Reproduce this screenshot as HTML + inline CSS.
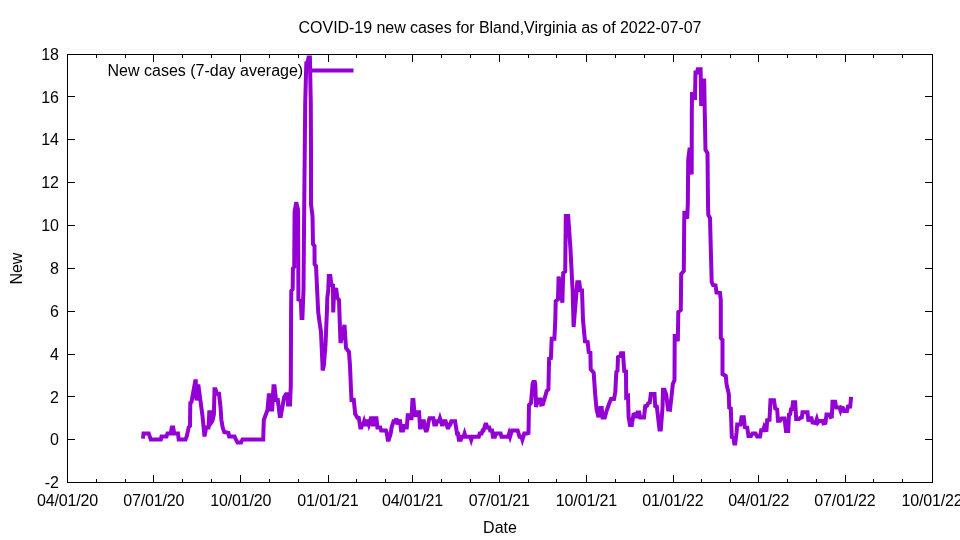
<!DOCTYPE html>
<html lang="en"><head><meta charset="utf-8"><title>COVID-19 new cases for Bland,Virginia</title>
<style>html,body{margin:0;padding:0;background:#fff;overflow:hidden}svg{display:block}text{font-family:"Liberation Sans", sans-serif;font-size:16px;fill:#000}</style></head><body>
<svg width="960" height="540" viewBox="0 0 960 540">
<rect width="960" height="540" fill="#fff"/>
<text x="59" y="488.2" text-anchor="end">-2</text>
<text x="59" y="445.3" text-anchor="end">0</text>
<text x="59" y="402.5" text-anchor="end">2</text>
<text x="59" y="359.6" text-anchor="end">4</text>
<text x="59" y="316.8" text-anchor="end">6</text>
<text x="59" y="273.9" text-anchor="end">8</text>
<text x="59" y="231.0" text-anchor="end">10</text>
<text x="59" y="188.2" text-anchor="end">12</text>
<text x="59" y="145.3" text-anchor="end">14</text>
<text x="59" y="102.5" text-anchor="end">16</text>
<text x="59" y="59.7" text-anchor="end">18</text>
<text x="67.5" y="506" text-anchor="middle" letter-spacing="-0.15">04/01/20</text>
<text x="153.7" y="506" text-anchor="middle" letter-spacing="-0.15">07/01/20</text>
<text x="240.8" y="506" text-anchor="middle" letter-spacing="-0.15">10/01/20</text>
<text x="327.9" y="506" text-anchor="middle" letter-spacing="-0.15">01/01/21</text>
<text x="412.5" y="506" text-anchor="middle" letter-spacing="-0.15">04/01/21</text>
<text x="499.3" y="506" text-anchor="middle" letter-spacing="-0.15">07/01/21</text>
<text x="586.4" y="506" text-anchor="middle" letter-spacing="-0.15">10/01/21</text>
<text x="672.9" y="506" text-anchor="middle" letter-spacing="-0.15">01/01/22</text>
<text x="758.7" y="506" text-anchor="middle" letter-spacing="-0.15">04/01/22</text>
<text x="844.9" y="506" text-anchor="middle" letter-spacing="-0.15">07/01/22</text>
<text x="932.0" y="506" text-anchor="middle" letter-spacing="-0.15">10/01/22</text>
<path d="M67.0 482.5h8M933.0 482.5h-8M67.0 439.5h8M933.0 439.5h-8M67.0 396.5h8M933.0 396.5h-8M67.0 354.5h8M933.0 354.5h-8M67.0 311.5h8M933.0 311.5h-8M67.0 268.5h8M933.0 268.5h-8M67.0 225.5h8M933.0 225.5h-8M67.0 182.5h8M933.0 182.5h-8M67.0 139.5h8M933.0 139.5h-8M67.0 96.5h8M933.0 96.5h-8M67.0 54.5h8M933.0 54.5h-8M67.5 483.0v-8M67.5 54.0v8M96.5 483.0v-4M96.5 54.0v4M125.5 483.0v-4M125.5 54.0v4M153.5 483.0v-8M153.5 54.0v8M182.5 483.0v-4M182.5 54.0v4M211.5 483.0v-4M211.5 54.0v4M240.5 483.0v-8M240.5 54.0v8M269.5 483.0v-4M269.5 54.0v4M298.5 483.0v-4M298.5 54.0v4M328.5 483.0v-8M328.5 54.0v8M356.5 483.0v-4M356.5 54.0v4M385.5 483.0v-4M385.5 54.0v4M412.5 483.0v-8M412.5 54.0v8M441.5 483.0v-4M441.5 54.0v4M470.5 483.0v-4M470.5 54.0v4M499.5 483.0v-8M499.5 54.0v8M528.5 483.0v-4M528.5 54.0v4M556.5 483.0v-4M556.5 54.0v4M586.5 483.0v-8M586.5 54.0v8M615.5 483.0v-4M615.5 54.0v4M644.5 483.0v-4M644.5 54.0v4M673.5 483.0v-8M673.5 54.0v8M701.5 483.0v-4M701.5 54.0v4M730.5 483.0v-4M730.5 54.0v4M758.5 483.0v-8M758.5 54.0v8M787.5 483.0v-4M787.5 54.0v4M816.5 483.0v-4M816.5 54.0v4M845.5 483.0v-8M845.5 54.0v8M873.5 483.0v-4M873.5 54.0v4M902.5 483.0v-4M902.5 54.0v4M932.5 483.0v-8M932.5 54.0v8" fill="none" stroke="#000" stroke-width="1"/>
<text x="500" y="33" text-anchor="middle" letter-spacing="-0.046">COVID-19 new cases for Bland,Virginia as of 2022-07-07</text>
<text x="500" y="533" text-anchor="middle">Date</text>
<text transform="translate(22,268.6) rotate(-90)" text-anchor="middle">New</text>
<text x="303.2" y="76" text-anchor="end">New cases (7-day average)</text>
<path d="M310 70.5H353.5" fill="none" stroke="#9400d3" stroke-width="4"/>
<polyline points="143.00,438.60 143.50,433.40 148.70,433.40 150.80,439.50 160.80,439.50 161.50,436.40 166.50,436.40 167.50,433.40 170.80,433.40 171.80,427.40 173.20,427.40 174.20,433.40 178.00,433.40 178.70,439.50 185.50,439.50 186.70,436.40 188.80,427.20 190.00,426.00 190.30,403.00 191.50,402.00 195.20,381.20 195.80,381.20 196.50,400.50 197.40,386.20 198.50,386.20 202.50,416.00 204.50,436.50 206.20,427.50 208.50,427.50 209.30,412.20 211.00,412.20 211.70,422.00 212.40,421.00 213.90,414.50 214.50,389.20 215.50,389.20 216.90,393.80 219.00,393.80 220.50,407.00 221.40,420.00 222.60,427.00 224.20,432.00 228.50,433.00 229.20,436.60 234.50,436.60 236.00,439.70 237.50,442.60 241.00,442.60 242.50,439.50 263.20,439.50 263.80,420.00 267.50,410.00 268.80,395.20 270.00,395.20 271.20,409.50 272.20,409.50 273.50,386.20 274.50,386.20 276.00,400.00 277.80,400.00 279.80,416.00 280.80,416.00 284.20,397.00 286.00,394.20 287.50,394.20 288.00,404.50 290.00,404.50 290.80,386.00 291.10,312.00 291.30,291.00 292.70,289.00 292.90,268.50 294.20,267.00 294.60,212.00 296.20,202.30 298.10,210.00 298.40,299.50 300.80,300.50 301.60,318.00 302.40,318.00 303.50,290.00 304.00,230.00 304.50,177.00 305.20,104.00 306.30,63.00 307.50,62.50 308.60,57.50 309.90,57.50 310.80,104.00 311.00,150.00 311.00,204.00 312.50,216.00 313.00,244.00 314.50,246.00 314.60,264.00 316.00,266.00 318.20,312.00 319.50,322.00 321.00,332.00 322.50,366.00 322.60,370.50 323.80,366.00 325.50,345.00 326.90,312.00 327.30,298.00 328.30,290.00 328.80,276.00 330.30,276.00 331.50,285.00 333.00,285.50 333.20,312.50 334.20,289.00 336.30,289.50 337.30,298.00 339.00,300.00 340.50,343.00 344.50,325.00 346.00,348.00 349.00,352.00 350.00,366.00 351.20,394.00 351.50,400.00 353.80,399.80 355.20,414.00 357.50,417.80 358.80,418.00 360.36,427.46 361.30,427.46 362.25,424.40 363.20,424.40 364.15,421.34 365.09,424.40 366.04,424.40 366.99,421.34 367.94,421.34 368.88,424.40 369.83,421.34 370.78,418.28 371.73,418.28 372.67,424.40 373.62,424.40 374.57,418.28 376.46,418.28 377.41,427.46 380.25,427.46 381.20,430.52 385.94,430.52 386.88,433.58 387.83,439.70 388.78,439.70 389.73,436.64 390.67,433.58 391.62,427.46 392.57,424.40 393.52,421.34 395.41,421.34 396.36,418.28 397.31,424.40 398.25,421.34 400.15,421.34 401.10,430.52 402.99,430.52 403.94,424.40 404.89,427.46 406.78,427.46 407.73,415.21 408.67,415.21 409.62,418.28 411.52,418.28 412.46,399.91 413.41,399.91 414.36,412.15 415.31,415.21 416.25,415.21 417.20,412.15 419.10,412.15 420.04,427.46 420.99,427.46 421.94,424.40 422.89,421.34 423.83,421.34 424.78,427.46 425.73,430.52 426.68,430.52 427.62,427.46 428.57,421.34 429.52,418.28 430.47,418.28 433.31,418.28 434.26,424.40 436.15,424.40 437.10,421.34 438.99,421.34 439.94,418.28 440.89,421.34 441.83,424.40 442.78,424.40 443.73,421.34 445.62,421.34 446.57,424.40 447.52,427.46 448.47,427.46 449.41,424.40 450.36,424.40 451.31,421.34 455.10,421.34 456.05,427.46 456.99,433.58 457.94,433.58 458.89,439.70 460.78,439.70 461.73,436.64 463.63,436.64 464.57,433.58 465.52,436.64 470.26,436.64 471.21,439.70 472.15,436.64 478.78,436.64 479.73,433.58 481.63,433.58 482.57,430.52 483.52,430.52 484.47,427.46 485.42,424.40 486.36,424.40 487.31,427.46 489.21,427.46 490.15,430.52 492.05,430.52 493.00,436.64 494.89,436.64 495.84,433.58 500.58,433.58 501.52,436.64 508.15,436.64 509.10,433.58 510.05,436.64 511.00,433.58 511.94,430.52 517.63,430.52 518.58,433.58 519.52,436.64 521.42,436.64 522.37,439.70 523.31,436.64 524.26,433.58 527.10,433.58 528.50,433.00 529.00,405.00 531.00,403.00 532.60,384.00 533.30,382.00 534.80,382.00 535.30,384.00 536.00,407.00 538.30,399.50 540.50,399.50 541.20,404.50 543.00,404.00 546.70,391.00 548.40,389.30 549.10,358.70 550.90,358.00 551.70,338.70 554.40,338.70 555.30,320.00 555.70,301.30 558.00,299.30 558.60,276.50 562.40,302.70 563.20,273.00 565.20,271.50 565.80,216.00 568.20,216.00 570.40,248.00 572.70,292.00 573.60,327.00 577.30,282.20 579.30,282.20 580.30,290.20 582.00,290.40 583.00,320.00 585.00,341.30 587.70,342.00 588.70,352.00 590.40,352.70 590.70,369.30 593.70,372.70 595.00,392.00 596.50,409.00 598.50,417.20 600.30,408.00 601.70,408.00 602.50,417.50 604.80,417.50 606.50,411.00 609.00,404.00 611.00,399.00 614.00,399.00 615.30,392.00 616.30,372.00 617.50,370.70 618.00,357.00 620.30,356.00 621.00,353.20 623.00,353.20 624.20,371.00 626.00,371.50 626.20,397.00 628.00,396.00 628.60,417.00 630.00,425.00 631.80,425.00 633.50,414.50 635.20,414.00 636.20,418.00 637.50,412.50 639.20,412.50 640.20,417.50 644.00,417.50 645.20,406.20 647.00,405.80 648.20,403.20 649.80,402.50 650.80,394.00 654.50,394.00 655.20,406.00 656.80,406.50 659.50,429.50 660.80,429.50 662.50,408.00 663.00,389.80 664.50,389.80 666.20,394.50 668.00,409.50 670.00,409.80 671.80,394.00 672.80,384.00 674.50,380.00 674.70,336.00 676.00,336.00 677.80,341.20 678.30,312.00 680.80,310.00 681.20,274.00 683.80,271.00 684.20,222.00 684.40,212.70 685.50,212.70 687.20,218.70 687.80,204.00 688.20,160.00 689.70,147.70 691.70,174.50 691.80,114.00 692.00,94.00 693.60,94.00 694.40,98.00 695.00,98.00 695.50,72.50 697.00,72.50 697.80,69.20 700.60,69.20 701.20,106.00 702.60,80.50 704.20,80.50 704.80,114.00 705.50,150.00 707.50,153.00 708.00,204.00 708.30,215.00 710.00,218.00 711.70,282.00 713.00,285.00 715.50,285.50 716.50,292.50 720.00,293.00 720.80,300.00 720.80,338.00 722.50,340.00 722.50,374.00 725.80,376.00 726.50,384.00 728.80,394.00 729.20,407.50 730.80,408.50 731.80,437.00 733.50,438.00 734.30,443.50 735.20,443.50 736.50,433.00 737.20,424.50 740.50,424.50 741.50,417.20 743.80,417.20 744.80,427.00 747.20,427.50 748.50,436.00 751.00,436.00 752.50,433.50 755.50,433.50 757.20,436.50 760.00,436.50 761.20,430.20 763.20,430.00 764.00,427.50 765.00,430.20 766.50,430.00 767.20,420.20 769.50,419.80 770.50,400.20 774.00,400.20 775.20,408.50 777.20,409.50 778.00,420.80 780.00,420.80 781.50,418.50 784.50,418.50 786.00,431.00 788.20,431.00 789.00,414.50 790.20,414.00 791.00,409.20 792.20,409.00 793.00,402.20 795.20,402.20 796.20,419.00 799.00,419.00 800.00,418.00 801.80,417.50 802.50,412.20 807.50,412.20 808.50,421.50 809.50,418.20 811.50,418.20 812.50,422.50 815.50,423.00 816.80,419.00 817.80,422.50 819.00,421.00 822.50,421.00 823.50,423.50 825.50,423.00 826.50,414.50 829.50,414.50 830.50,417.00 831.80,416.50 832.50,401.80 835.20,401.80 836.20,407.50 839.50,407.50 840.50,410.50 841.50,407.50 843.00,408.00 844.00,411.00 847.00,411.00 848.00,406.50 850.20,406.50 851.10,396.90" fill="none" stroke="#9400d3" stroke-width="4" stroke-linejoin="miter" stroke-miterlimit="3.8" stroke-linecap="butt"/>
<rect x="67.5" y="54.5" width="865.0" height="428.0" fill="none" stroke="#000" stroke-width="1"/>
</svg></body></html>
